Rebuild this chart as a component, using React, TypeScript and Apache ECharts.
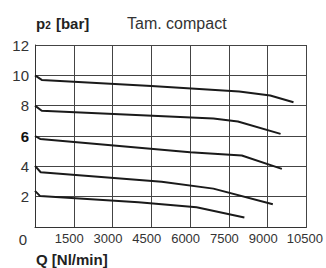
import React, { useEffect, useRef } from "react";
import * as echarts from "echarts";

// Flow Q [Nl/min] vs outlet pressure p2 [bar], one curve per set pressure
const curve10: [number, number][] = [[0, 10], [260, 9.7], [4500, 9.3], [7900, 8.93], [9100, 8.67], [10000, 8.22]];
const curve8: [number, number][] = [[0, 8], [260, 7.66], [6900, 7.15], [7850, 6.96], [9500, 6.14]];
const curve6: [number, number][] = [[0, 6], [200, 5.81], [6000, 4.93], [8000, 4.71], [9550, 3.83]];
const curve4: [number, number][] = [[0, 4.03], [220, 3.61], [4900, 2.99], [6900, 2.53], [9200, 1.5]];
const curve2: [number, number][] = [[0, 2.38], [190, 2.05], [4000, 1.63], [6250, 1.3], [8100, 0.62]];
const curves = [curve10, curve8, curve6, curve4, curve2];

const xTicks = [0, 1500, 3000, 4500, 6000, 7500, 9000, 10500];
const yTicks = [0, 2, 4, 6, 8, 10, 12];

const titleX = "Q [Nl/min]";
const subtitle = "Tam. compact";

export default function App() {
  const ref = useRef<HTMLDivElement>(null);
  useEffect(() => {
    document.body.style.margin = "0";
    const chart = echarts.init(ref.current!, null, { renderer: "svg" });
    const font = "Liberation Sans, Arial, sans-serif";
    chart.setOption({
      animation: false,
      grid: { left: 35, right: 18, top: 45, bottom: 41 },
      xAxis: {
        type: "value",
        min: xTicks[0],
        max: xTicks[xTicks.length - 1],
        interval: 1500,
        axisLine: { show: true, lineStyle: { color: "#333", width: 1 } },
        axisTick: { show: false },
        splitLine: { show: true, lineStyle: { color: "#444", width: 1 } },
        axisLabel: {
          margin: 5,
          showMinLabel: true,
          showMaxLabel: true,
          formatter: (v: number) =>
            v === 0 ? "{z|0}" : v === 10500 ? "{e|" + v + "}" : "{n|" + v + "}",
          rich: {
            n: { fontSize: 13, fontFamily: font, color: "#333", padding: [0, 9, 0, 0] },
            e: { fontSize: 13, fontFamily: font, color: "#333", padding: [0, 3, 0, 0] },
            z: { fontSize: 15, fontFamily: font, color: "#333", padding: [0, 24, 0, 0] },
          },
        },
      },
      yAxis: {
        type: "value",
        min: yTicks[0],
        max: yTicks[yTicks.length - 1],
        interval: 2,
        axisLine: { show: true, lineStyle: { color: "#333", width: 1 } },
        axisTick: { show: false },
        splitLine: { show: true, lineStyle: { color: "#444", width: 1 } },
        axisLabel: {
          margin: 6,
          formatter: (v: number) => (v === 0 ? "" : v === 6 ? "{b|6}" : "{r|" + v + "}"),
          rich: {
            r: { fontSize: 15, fontFamily: font, color: "#333" },
            b: { fontSize: 15, fontFamily: font, color: "#111", fontWeight: "bold" },
          },
        },
      },
      series: curves.map((c) => ({
        type: "line",
        data: c,
        showSymbol: false,
        symbol: "none",
        lineStyle: { color: "#1a1a1a", width: 2 },
      })),
      graphic: [
        {
          type: "text",
          x: 36,
          y: 23,
          style: {
            text: "{p|p}{s|2}{t| [bar]}",
            verticalAlign: "middle",
            rich: {
              p: { fontSize: 15, fontWeight: "bold", fontFamily: font, fill: "#222" },
              s: { fontSize: 10, fontWeight: "bold", fontFamily: font, fill: "#222", padding: [4, 1, 0, 0] },
              t: { fontSize: 15, fontWeight: "bold", fontFamily: font, fill: "#222" },
            },
          },
        },
        {
          type: "text",
          x: 127,
          y: 23,
          style: { text: subtitle, fontSize: 16, fontFamily: font, fill: "#333", verticalAlign: "middle" },
        },
        {
          type: "text",
          x: 36,
          y: 259,
          style: { text: titleX, fontSize: 15, fontWeight: "bold", fontFamily: font, fill: "#222", verticalAlign: "middle" },
        },
      ],
    });
    return () => chart.dispose();
  }, []);
  return <div ref={ref} style={{ width: 326, height: 268 }} />;
}
